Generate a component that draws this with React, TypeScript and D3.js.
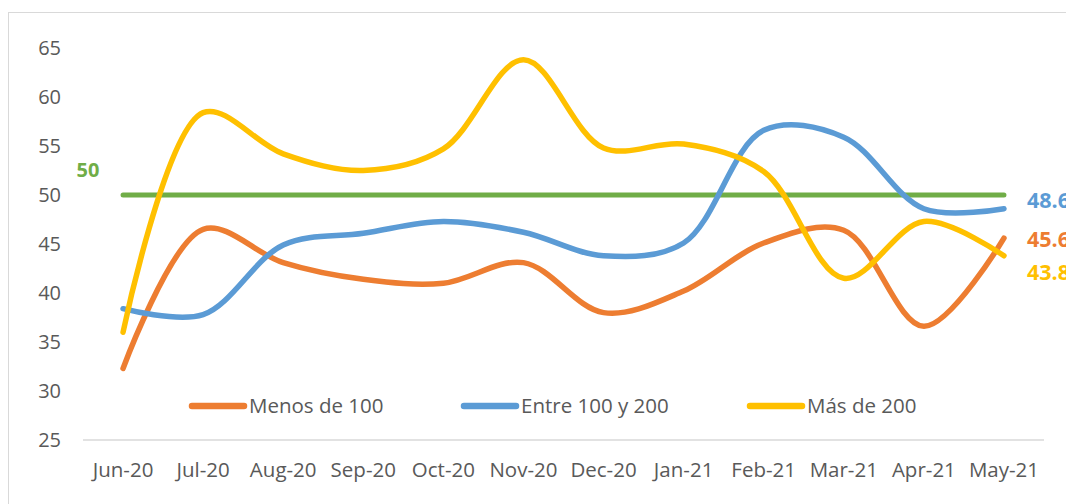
import { useEffect, useRef } from 'react';
import { select, scaleBand, scaleLinear, line, curveCatmullRom } from 'd3';

const months = ['Jun-20', 'Jul-20', 'Aug-20', 'Sep-20', 'Oct-20', 'Nov-20', 'Dec-20', 'Jan-21', 'Feb-21', 'Mar-21', 'Apr-21', 'May-21'];
const menos100 = [32.3, 46.5, 43.1, 41.4, 41.0, 43.1, 38.0, 40.2, 45.1, 46.4, 36.6, 45.6];
const entre100200 = [38.4, 37.8, 44.9, 46.1, 47.3, 46.2, 43.8, 45.1, 56.6, 55.9, 48.6, 48.6];
const mas200 = [36.0, 58.4, 54.2, 52.5, 54.7, 63.8, 54.8, 55.2, 52.4, 41.5, 47.3, 43.8];
const target = 50;
const yTicks = [25, 30, 35, 40, 45, 50, 55, 60, 65];

const series = [
  { name: 'Menos de 100', values: menos100, color: '#ED7D31' },
  { name: 'Entre 100 y 200', values: entre100200, color: '#5B9BD5' },
  { name: 'Más de 200', values: mas200, color: '#FFC000' },
];

const FONT = '"Open Sans", "Noto Sans", sans-serif';

export default function App() {
  const svgRef = useRef<SVGSVGElement>(null);

  useEffect(() => {
    if (!svgRef.current) return;
    const svg = select(svgRef.current);
    svg.selectAll('*').remove();

    const width = 1066;
    const margin = { left: 83, right: 22 };

    // chart frame
    svg.append('rect')
      .attr('x', 8.5).attr('y', 12.5)
      .attr('width', 1070).attr('height', 500)
      .attr('fill', '#fff').attr('stroke', '#d9d9d9');

    const x = scaleBand<string>()
      .domain(months)
      .range([margin.left, width - margin.right]);
    const cx = (m: string) => (x(m) || 0) + x.bandwidth() / 2;

    const y = scaleLinear().domain([25, 65]).range([440, 48]);

    // y tick labels
    svg.append('g').selectAll('text')
      .data(yTicks)
      .enter()
      .append('text')
      .attr('x', 61)
      .attr('y', (d) => y(d))
      .attr('dy', '0.35em')
      .attr('text-anchor', 'end')
      .attr('font-family', FONT)
      .attr('font-size', 20)
      .attr('fill', '#595959')
      .text((d) => d);

    // baseline
    svg.append('line')
      .attr('x1', margin.left).attr('x2', width - margin.right)
      .attr('y1', y(25)).attr('y2', y(25))
      .attr('stroke', '#d9d9d9').attr('stroke-width', 1.5);

    // x labels
    svg.append('g').selectAll('text')
      .data(months)
      .enter()
      .append('text')
      .attr('x', (d) => cx(d))
      .attr('y', 470)
      .attr('dy', '0.35em')
      .attr('text-anchor', 'middle')
      .attr('font-family', FONT)
      .attr('font-size', 20.5)
      .attr('fill', '#595959')
      .text((d) => d);

    // target line
    svg.append('line')
      .attr('x1', cx(months[0])).attr('x2', cx(months[months.length - 1]))
      .attr('y1', y(target)).attr('y2', y(target))
      .attr('stroke', '#70AD47').attr('stroke-width', 5)
      .attr('stroke-linecap', 'round');

    svg.append('text')
      .attr('x', 88).attr('y', y(target) - 25)
      .attr('dy', '0.35em')
      .attr('text-anchor', 'middle')
      .attr('font-family', FONT)
      .attr('font-weight', 'bold')
      .attr('font-size', 20)
      .attr('fill', '#70AD47')
      .text(target);

    const lineGen = line<number>()
      .x((_, i) => cx(months[i]))
      .y((d) => y(d))
      .curve(curveCatmullRom.alpha(0.5));

    series.forEach((s) => {
      svg.append('path')
        .attr('d', lineGen(s.values) || '')
        .attr('fill', 'none')
        .attr('stroke', s.color)
        .attr('stroke-width', 5.5)
        .attr('stroke-linecap', 'round')
        .attr('stroke-linejoin', 'round');
    });

    // end labels
    const labelY = [239, 200, 272];
    series.forEach((s, i) => {
      svg.append('text')
        .attr('x', 1027)
        .attr('y', labelY[i])
        .attr('dy', '0.35em')
        .attr('font-family', FONT)
        .attr('font-weight', 'bold')
        .attr('font-size', 21.5)
        .attr('fill', s.color)
        .text(s.values[s.values.length - 1].toFixed(1));
    });

    // legend
    const legendX = [189, 461, 747];
    const legend = svg.append('g');
    series.forEach((s, i) => {
      legend.append('line')
        .attr('x1', legendX[i] + 3).attr('x2', legendX[i] + 55)
        .attr('y1', 406).attr('y2', 406)
        .attr('stroke', s.color).attr('stroke-width', 6.5)
        .attr('stroke-linecap', 'round');
      legend.append('text')
        .attr('x', legendX[i] + 60)
        .attr('y', 406)
        .attr('dy', '0.35em')
        .attr('font-family', FONT)
        .attr('font-size', 20.5)
        .attr('fill', '#595959')
        .text(s.name);
    });
  }, []);

  return (
    <svg
      ref={svgRef}
      width={1066}
      height={504}
      style={{ position: 'absolute', left: 0, top: 0, display: 'block' }}
    />
  );
}
